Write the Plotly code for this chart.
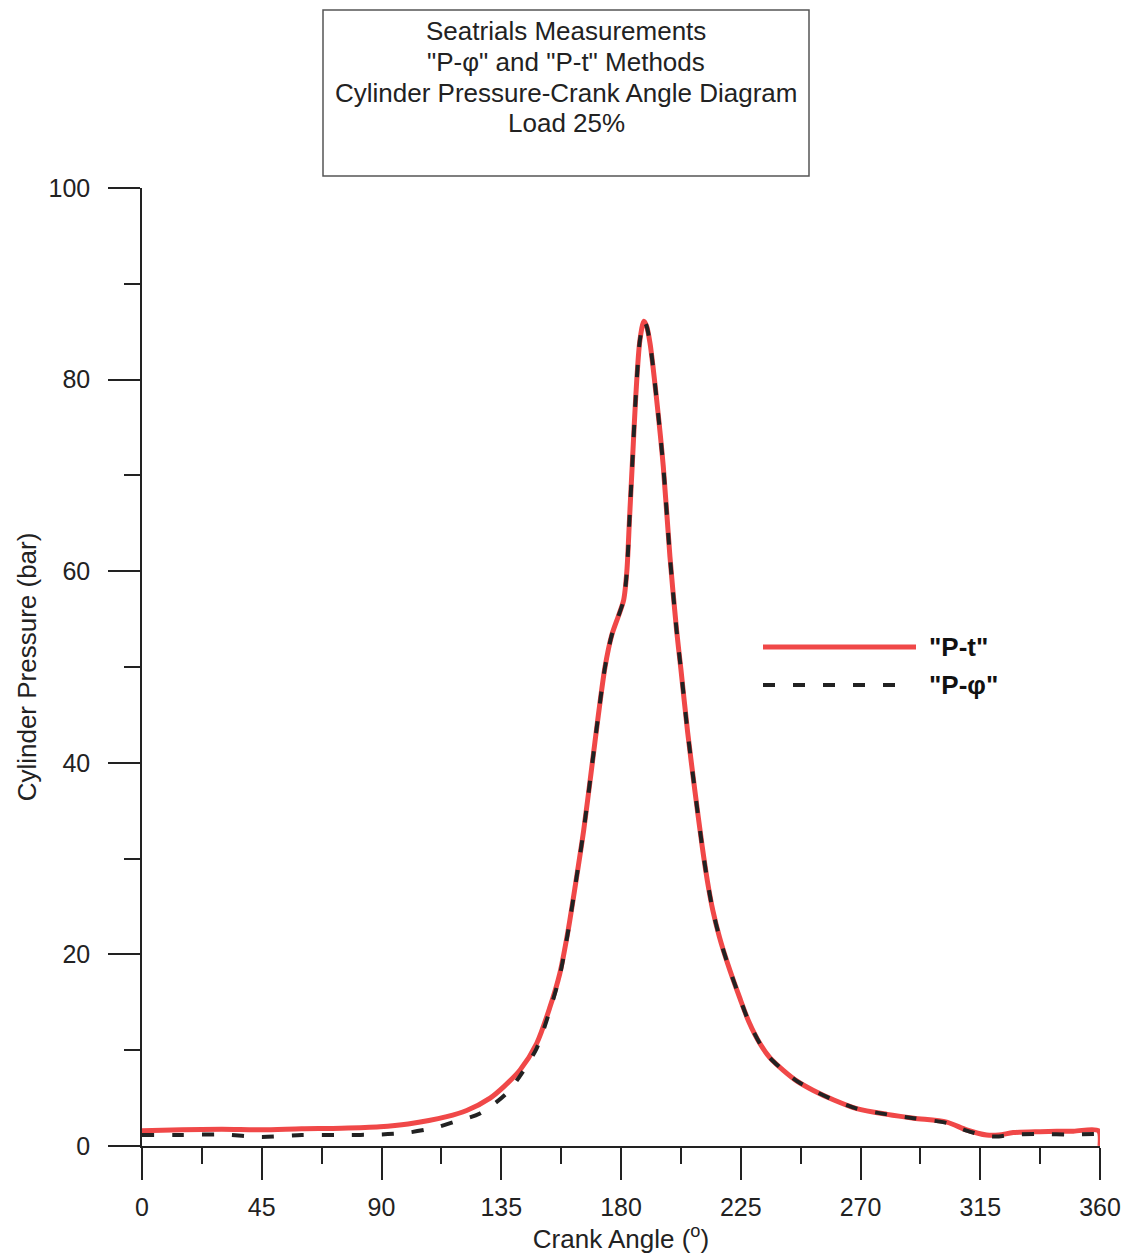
import plotly.graph_objects as go

# ---------------- data ----------------
pt_angle = [0, 15, 30, 45, 60, 75, 89.4, 100, 114.5, 122, 130.8, 136, 142, 148.3, 153.3,
            157, 160, 163, 166, 169, 171.5, 174, 176.5, 179, 181, 182.2,
            183.2, 184.3, 185.5, 187.1, 188.6, 189.6, 190.9, 193.4, 195.9, 198.4, 200.9,
            202.5, 205, 207.8, 210.5, 212.5, 214.5, 217, 220, 224.7, 228, 232.2, 236, 241,
            246, 252.3, 260, 268.6, 280, 290, 302.4, 309.9, 317.4, 322, 327.4, 337.5, 350,
            359.4, 360]
pt_pressure = [1.6, 1.7, 1.75, 1.7, 1.8, 1.85, 2.0, 2.3, 3.06, 3.7, 5.0, 6.2, 7.9, 10.7, 14.5,
               18.0, 22.3, 27.5, 33.0, 39.5, 45.0, 50.0, 53.3, 55.3, 57.0, 60.0,
               65.5, 71.5, 78.0, 84.1, 86.1, 85.6, 83.8, 77.9, 70.9, 61.5, 53.8,
               49.8, 43.3, 37.0, 31.3, 27.6, 24.6, 21.8, 19.1, 15.4, 13.0, 10.7, 9.2, 7.9,
               6.8, 5.8, 4.8, 3.9, 3.3, 2.9, 2.5, 1.67, 1.15, 1.15, 1.4, 1.5, 1.55,
               1.6, 0.0]

pphi_angle = [0, 15, 30, 45, 60, 75, 90, 100, 110, 117, 127, 137, 142, 148.3, 153.3,
              157, 160, 163, 166, 169, 171.5, 174, 176.5, 179, 181, 182.2,
              183.2, 184.3, 185.5, 187.1, 188.6, 189.6, 190.9, 193.4, 195.9, 198.4, 200.9,
              202.5, 205, 207.8, 210.5, 212.5, 214.5, 217, 220, 224.7, 228, 232.2, 236, 241,
              246, 252.3, 260, 268.6, 280, 290, 302.4, 309.9, 317.4, 322, 327.4, 337.5, 350,
              358]
pphi_pressure = [1.15, 1.15, 1.2, 0.95, 1.15, 1.15, 1.2, 1.4, 1.9, 2.5, 3.4, 5.5, 7.3, 10.2, 14.2,
                 17.8, 22.2, 27.5, 33.0, 39.5, 45.0, 50.0, 53.3, 55.3, 57.0, 60.0,
                 65.5, 71.5, 78.0, 84.1, 86.1, 85.6, 83.8, 77.9, 70.9, 61.5, 53.8,
                 49.8, 43.3, 37.0, 31.3, 27.6, 24.6, 21.8, 19.1, 15.4, 13.0, 10.7, 9.2, 7.9,
                 6.8, 5.8, 4.8, 3.9, 3.3, 2.9, 2.4, 1.6, 1.05, 1.0, 1.2, 1.25, 1.2,
                 1.25]

x_tickvals = [0, 45, 90, 135, 180, 225, 270, 315, 360]
x_ticklabels = ["0", "45", "90", "135", "180", "225", "270", "315", "360"]
y_tickvals = [0, 20, 40, 60, 80, 100]
y_ticklabels = ["0", "20", "40", "60", "80", "100"]

title_lines = ["Seatrials Measurements", "\"P-φ\" and \"P-t\" Methods",
               "Cylinder Pressure-Crank Angle Diagram", "Load 25%"]
series_names = ["\"P-t\"", "\"P-φ\""]

RED = "#f04848"
INK = "#222222"
FONT = "Liberation Sans, Arial, sans-serif"

fig = go.Figure()
fig.add_trace(go.Scatter(x=pt_angle, y=pt_pressure, mode="lines", name=series_names[0],
                         line=dict(color=RED, width=5, shape="spline", smoothing=0.8),
                         showlegend=False, cliponaxis=False))
fig.add_trace(go.Scatter(x=pphi_angle, y=pphi_pressure, mode="lines", name=series_names[1],
                         line=dict(color=INK, width=4, dash="12px,18px",
                                   shape="spline", smoothing=0.8),
                         showlegend=False, cliponaxis=False))

axis_common = dict(showgrid=False, zeroline=False, showline=True, linecolor=INK,
                   linewidth=1.5, ticks="outside", ticklen=32, tickwidth=1.5,
                   tickcolor=INK, tickfont=dict(family=FONT, size=25, color=INK))

fig.update_xaxes(range=[0, 360], tickmode="array", tickvals=x_tickvals, ticktext=x_ticklabels,
                 ticklabelstandoff=6,
                 minor=dict(ticks="outside", ticklen=16, tickwidth=1.5, tickcolor=INK,
                            dtick=22.5, tick0=0, showgrid=False),
                 title=dict(text="Crank Angle (<sup>o</sup>)", font=dict(family=FONT, size=26, color=INK),
                            standoff=5),
                 **axis_common)
fig.update_yaxes(range=[0, 100], tickmode="array", tickvals=y_tickvals, ticktext=y_ticklabels,
                 ticklabelstandoff=13,
                 minor=dict(ticks="outside", ticklen=16, tickwidth=1.5, tickcolor=INK,
                            dtick=10, tick0=0, showgrid=False),
                 title=dict(text="Cylinder Pressure (bar)", font=dict(family=FONT, size=26, color=INK),
                            standoff=4),
                 **axis_common)

W, H = 1125, 1255
L, R, T, B = 142, 25, 188, 109
PW, PH = W - L - R, H - T - B


def px(xs):
    return (xs - L) / PW


def py(ys):
    return (H - B - ys) / PH


# title box
fig.add_shape(type="rect", xref="paper", yref="paper", x0=px(323), x1=px(809), y0=py(176), y1=py(10),
              line=dict(color="#555555", width=1.5), fillcolor="white", layer="below")
for line_text, yc in zip(title_lines, [31, 62, 93, 123]):
    fig.add_annotation(xref="paper", yref="paper", x=px(566), y=py(yc), xanchor="center",
                       yanchor="middle", text=line_text, showarrow=False,
                       font=dict(family=FONT, size=26, color=INK))

# legend (manual, long swatches as in the reference)
fig.add_shape(type="line", xref="paper", yref="paper", x0=px(763), x1=px(916), y0=py(647), y1=py(647),
              line=dict(color=RED, width=5))
fig.add_shape(type="line", xref="paper", yref="paper", x0=px(763), x1=px(905), y0=py(685), y1=py(685),
              line=dict(color=INK, width=4, dash="12px,18px"))
for name, yc in zip(series_names, [647, 685]):
    fig.add_annotation(xref="paper", yref="paper", x=px(927), y=py(yc), xanchor="left", yanchor="middle",
                       text="<b>" + name + "</b>", showarrow=False,
                       font=dict(family=FONT, size=26, color="#111111"))

fig.update_layout(width=W, height=H, margin=dict(l=L, r=R, t=T, b=B, autoexpand=False),
                  paper_bgcolor="white", plot_bgcolor="white", showlegend=False,
                  font=dict(family=FONT, size=25, color=INK))

# remove the default page margin so the figure fills the window exactly
fig.write_html("out.html", config={"displayModeBar": False},
               post_script="document.body.style.margin='0';document.body.style.overflow='hidden';")
